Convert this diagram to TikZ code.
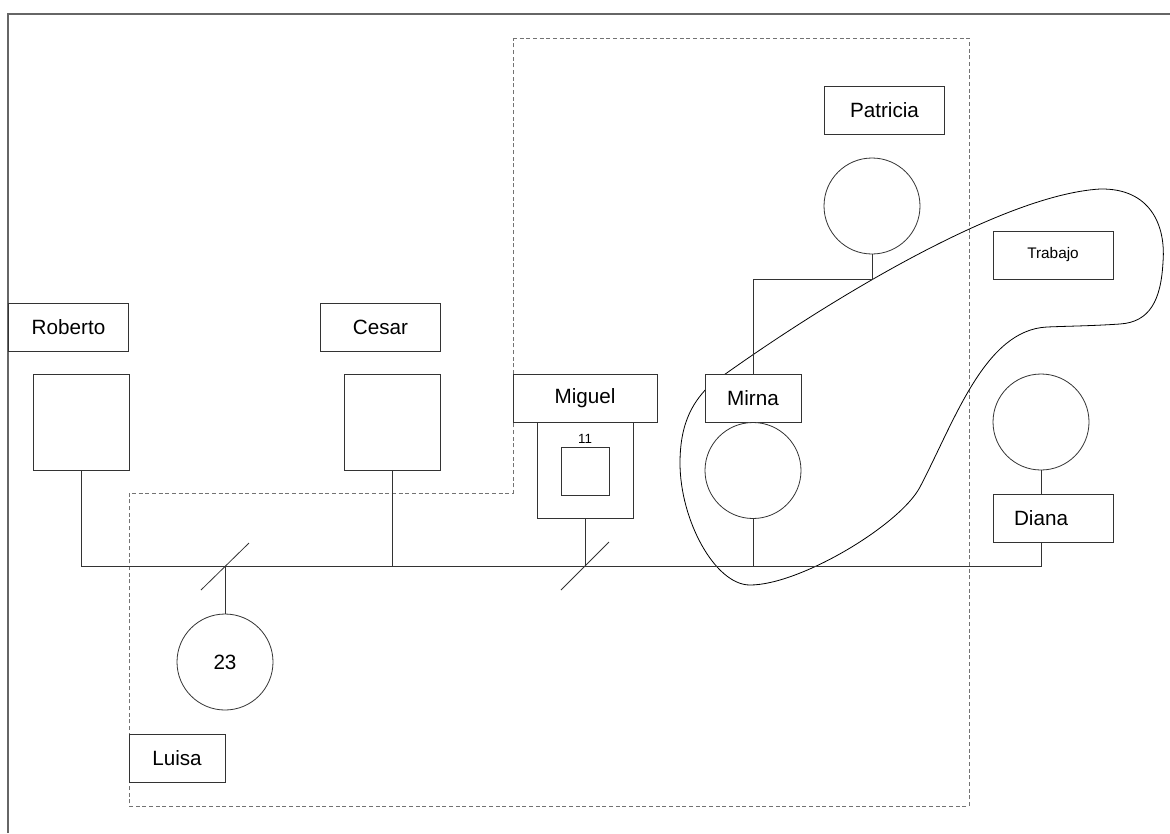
\documentclass[tikz,border=0pt]{standalone}
\usepackage{fontspec}
\setmainfont{Liberation Sans}
\usetikzlibrary{positioning}

\begin{document}
\begin{tikzpicture}[
  x=0.75pt, y=-0.75pt,
  font=\fontsize{15.5}{18}\selectfont,
  line width=0.6pt,
  namebox/.style={draw=black!80, fill=white, minimum width=120*0.75pt, minimum height=48*0.75pt, inner sep=0pt},
  male/.style={draw=black!80, fill=white, minimum size=96*0.75pt, inner sep=0pt},
  female/.style={draw=black!80, circle, fill=white, minimum size=96*0.75pt, inner sep=0pt},
  link/.style={draw=black!80},
  zone/.style={draw=black!55, densely dashed, line width=0.5pt},
]
\useasboundingbox (0,0) rectangle (1170,833);
% frame
\draw[black!60, line width=1.3pt] (8,833) -- (8,14) -- (1170,14);
% household zone
\draw[zone] (513,38) -- (969,38) -- (969,806) -- (129,806) -- (129,493) -- (513,493) -- cycle;
% work relation
\draw[black, line width=0.6pt] (710,385)
  .. controls (820,305) and (1000,195) .. (1100,189)
  .. controls (1150,188) and (1166,225) .. (1163,262)
  .. controls (1161,300) and (1150,322) .. (1120,324)
  .. controls (1090,326) and (1070,326) .. (1047,327)
  .. controls (985,330) and (955,420) .. (920,487)
  .. controls (900,525) and (800,585) .. (750,585)
  .. controls (715,585) and (680,520) .. (680,463)
  .. controls (680,420) and (695,400) .. cycle;
% people
\node[namebox] (roberto) at (68.5,327) {Roberto};
\node[male] (robsq) at (81,422.5) {};
\node[namebox] (cesar) at (380.5,327) {Cesar};
\node[male] (cessq) at (392.5,422.5) {};
\node[namebox, minimum width=144*0.75pt] (miguel) at (585,398) {Miguel};
\node[male] (migsq) at (585,470) {};
\node[male, minimum size=48*0.75pt] (miginner) at (585,471) {};
\node[font=\fontsize{10}{12}\selectfont, above=-1pt of miginner] (migage) {11};
\node[namebox] (patricia) at (884.5,110) {Patricia};
\node[female] (patcirc) at (872,206) {};
\node[namebox, minimum width=96*0.75pt] (mirna) at (753,398.5) {Mirna};
\node[female] (mirncirc) at (753,470.5) {};
\node[namebox, font=\fontsize{11.5}{14}\selectfont] (trabajo) at (1053,255) {Trabajo};
\node[female] (diancirc) at (1041,422) {};
\node[namebox] (diana) at (1053,518) {\hspace*{-18pt}Diana};
\node[female] (luisacirc) at (225,662) {23};
\node[namebox, minimum width=96*0.75pt] (luisa) at (177,758) {Luisa};
% family lines
\coordinate (bus) at (0,566);
\draw[link] (robsq.south) -- (robsq.south |- bus) -- (diancirc.south |- bus) -- (diancirc.south |- diana.south);
\draw[link] (cessq.south) -- (cessq.south |- bus);
\draw[link] (migsq.south) -- (migsq.south |- bus);
\draw[link] (mirncirc.south) -- (mirncirc.south |- bus);
\draw[link] (luisacirc.north) -- (luisacirc.north |- bus);
\draw[link] (diancirc.south) -- (diancirc.south |- diana.north);
\draw[link] (patcirc.south) -- ++(0,25) -| (mirna.north);
% cut-offs
\coordinate (luisacut) at (luisacirc.north |- bus);
\coordinate (migcut) at (migsq.south |- bus);
\draw[link] ([shift={(-24,24)}]luisacut) -- ([shift={(24,-23)}]luisacut);
\draw[link] ([shift={(-24,24)}]migcut) -- ([shift={(24,-24)}]migcut);
\end{tikzpicture}
\end{document}
